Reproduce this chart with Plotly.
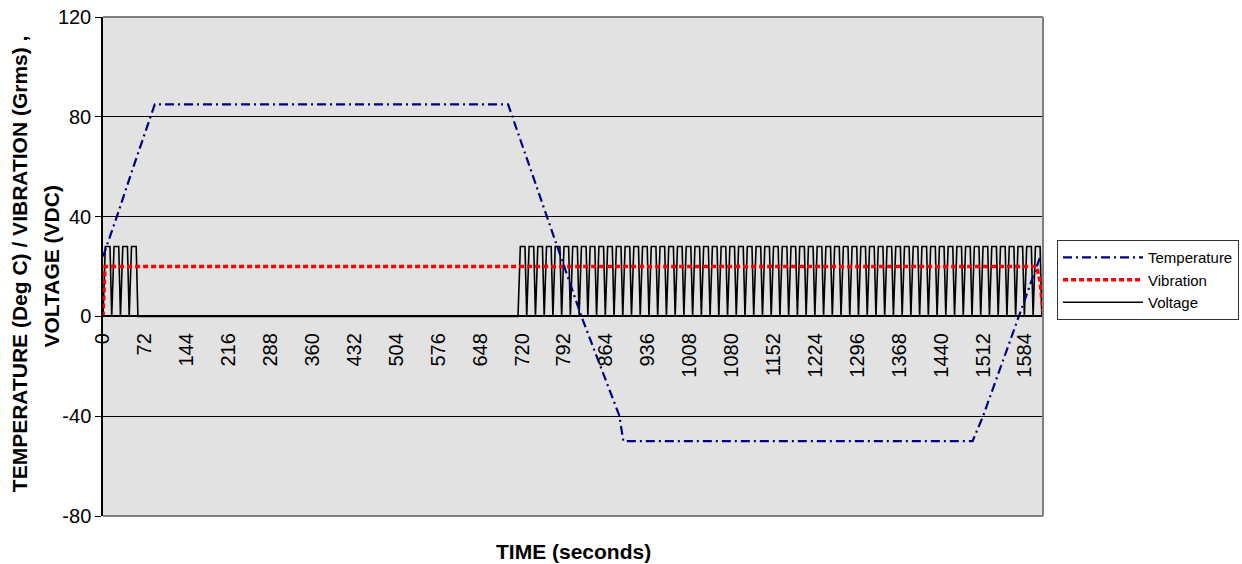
import plotly.graph_objects as go

# ---------------- data ----------------
temp_time = [0, 10, 23.5, 52, 89, 696, 762, 822, 887, 894, 1494, 1512, 1571, 1610, 1615]
temperature = [24, 30.7, 39.8, 59.8, 85, 85, 40, 0, -39.7, -50, -50, -40, -1.6, 23.8, 25]

vib_time = [0, 3.5, 1604, 1610, 1615]
vibration = [0, 20, 20, 14, 2]

volt_high = 28
volt_low = 0
# start times (s) of each voltage pulse: rise 4 s, hold 8 s, fall 3 s
pulse_starts = [0, 15, 30, 45,
                713, 728, 743, 758, 773, 788, 803, 818, 833, 848, 863, 878, 893, 908,
                923, 938, 953, 968, 983, 998, 1013, 1028, 1043, 1058, 1073, 1088, 1103,
                1118, 1133, 1148, 1163, 1178, 1193, 1208, 1223, 1238, 1253, 1268, 1283,
                1298, 1313, 1328, 1343, 1358, 1373, 1388, 1403, 1418, 1433, 1448, 1463,
                1478, 1493, 1508, 1523, 1538, 1553, 1568, 1583, 1598, 1613]
pulse_shape_t = [0, 4, 12, 15]
pulse_shape_v = [volt_low, volt_high, volt_high, volt_low]

x_tick_vals = [0, 72, 144, 216, 288, 360, 432, 504, 576, 648, 720, 792, 864, 936,
               1008, 1080, 1152, 1224, 1296, 1368, 1440, 1512, 1584]
x_tick_text = [str(v) for v in x_tick_vals]
y_tick_vals = [-80, -40, 0, 40, 80, 120]
y_tick_text = ["-80", "-40", "0", "40", "80", "120"]

y_title_lines = ["TEMPERATURE (Deg C) / VIBRATION (Grms) ,", "VOLTAGE (VDC)"]
x_title = "TIME (seconds)"

# build voltage polyline from the pulse list
volt_t, volt_v = [], []
for s in pulse_starts:
    for dt, v in zip(pulse_shape_t, pulse_shape_v):
        volt_t.append(s + dt)
        volt_v.append(v)

FONT = "Liberation Sans, Arial, sans-serif"

fig = go.Figure()
fig.add_trace(go.Scatter(x=volt_t, y=volt_v, mode="lines", name="Voltage",
                         line=dict(color="black", width=1.6), legendrank=3))
fig.add_trace(go.Scatter(x=vib_time, y=vibration, mode="lines", name="Vibration",
                         line=dict(color="#FF0000", width=3.5, dash="5px,3px"), legendrank=2))
fig.add_trace(go.Scatter(x=temp_time, y=temperature, mode="lines", name="Temperature",
                         line=dict(color="#000080", width=2.2, dash="9px,4px,2px,4px"),
                         legendrank=1))

fig.update_layout(
    width=1242, height=564,
    margin=dict(l=103, r=199, t=17, b=48, autoexpand=False),
    paper_bgcolor="white",
    plot_bgcolor="#E2E2E2",
    font=dict(family=FONT, color="black"),
    showlegend=True,
    legend=dict(x=1.0149, y=0.553, xanchor="left", yanchor="top",
                bgcolor="white", bordercolor="#333333", borderwidth=1,
                font=dict(size=15, family=FONT), itemwidth=80,
                tracegroupgap=0),
    xaxis=dict(range=[0, 1615], tickmode="array", tickvals=x_tick_vals,
               ticktext=x_tick_text, tickangle=-90, tickfont=dict(size=20),
               anchor="free", position=0.4, showgrid=False, zeroline=False,
               showline=True, linecolor="black", linewidth=1.5,
               ticks="", ticklabelstandoff=8),
    yaxis=dict(range=[-80, 120], tickmode="array", tickvals=y_tick_vals,
               ticktext=y_tick_text, ticklabeloverflow="allow",
               tickfont=dict(size=20), ticks="outside", ticklen=6,
               tickcolor="black", showline=True, linecolor="black", linewidth=1.5,
               showgrid=True, gridcolor="black", gridwidth=1, zeroline=False),
    shapes=[
        dict(type="line", xref="paper", yref="paper", x0=0, x1=1, y0=1, y1=1,
             line=dict(color="#808080", width=2), layer="above"),
        dict(type="line", xref="paper", yref="paper", x0=0, x1=1, y0=0, y1=0,
             line=dict(color="#808080", width=2), layer="above"),
        dict(type="line", xref="paper", yref="paper", x0=1, x1=1, y0=0, y1=1,
             line=dict(color="#808080", width=2), layer="above"),
    ],
    annotations=[
        dict(text="<b>" + y_title_lines[0] + "</b>",
             xref="paper", yref="paper", x=-0.0892, y=0.505, xanchor="center",
             yanchor="middle", textangle=-90, showarrow=False,
             font=dict(size=21, family=FONT)),
        dict(text="<b>" + y_title_lines[1] + "</b>",
             xref="paper", yref="paper", x=-0.0552, y=0.5, xanchor="center",
             yanchor="middle", textangle=-90, showarrow=False,
             font=dict(size=21, family=FONT)),
        dict(text="<b>" + x_title + "</b>", xref="paper", yref="paper", x=0.5, y=-0.0721,
             xanchor="center", yanchor="middle", showarrow=False,
             font=dict(size=21, family=FONT)),
    ],
)

fig.write_html("out.html", config={"displayModeBar": False},
               post_script="document.body.style.margin='0';document.body.style.overflow='hidden';")
